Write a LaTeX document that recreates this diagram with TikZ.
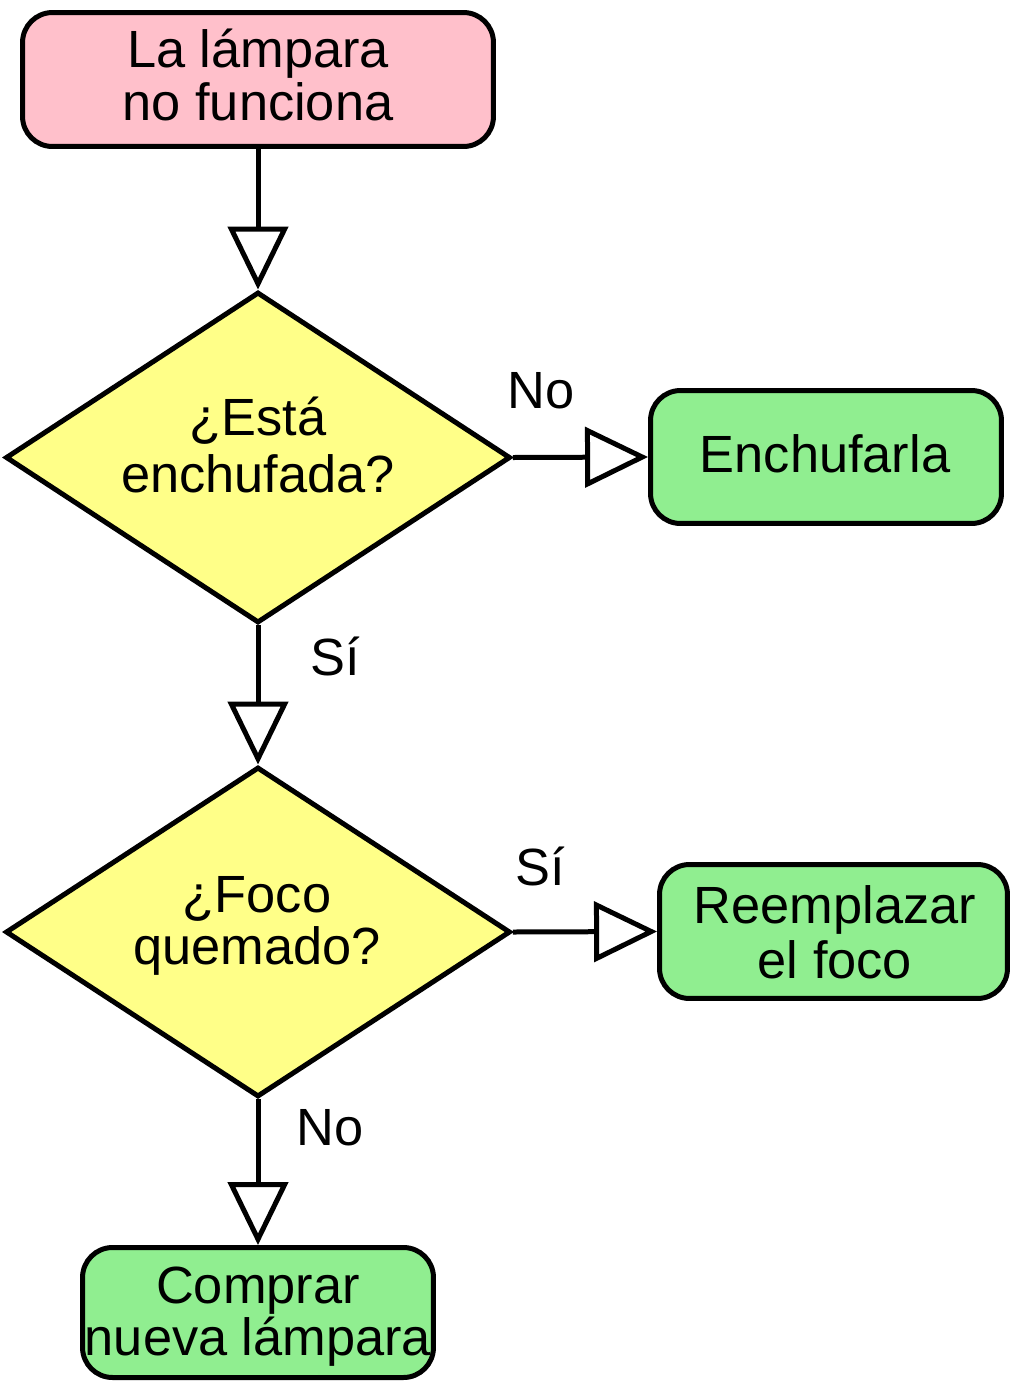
\documentclass[tikz,border=0pt]{standalone}
\usepackage{fontspec}
\setmainfont{Liberation Sans}
\usetikzlibrary{shapes.geometric,arrows.meta}
\definecolor{startpink}{HTML}{FFC0CB}
\definecolor{decyellow}{HTML}{FFFF88}
\definecolor{endgreen}{HTML}{90EE90}
\tikzset{
  lw/.style={line width=0.1cm},
  boxnode/.style={lw, draw=black, rectangle, rounded corners=0.6cm, inner sep=0pt},
  decnode/.style={lw, draw=black, diamond, fill=decyellow, inner sep=0pt, minimum width=10.1cm},
  txt/.style={inner sep=0pt, anchor=base, align=center, font=\fontsize{29.8pt}{29.6pt}\selectfont},
  arr/.style={lw, line join=miter, -{Triangle[length=1.26cm, width=1.2cm, fill=white]}},
}
\begin{document}
\begin{tikzpicture}[x=0.02cm, y=-0.02cm]
\useasboundingbox (0,0) rectangle (1012,1383);
% shapes
\node[boxnode, fill=startpink, minimum width=9.42cm, minimum height=2.68cm] (start) at (258,79.5) {};
\node[decnode, minimum height=6.62cm] (d1) at (258,457.5) {};
\node[boxnode, fill=endgreen, minimum width=7.02cm, minimum height=2.66cm] (e1) at (826,457) {};
\node[decnode, minimum height=6.6cm] (d2) at (258,932) {};
\node[boxnode, fill=endgreen, minimum width=6.96cm, minimum height=2.68cm] (e2) at (833.5,931.5) {};
\node[boxnode, fill=endgreen, minimum width=7.02cm, minimum height=2.6cm] (e3) at (258,1312.5) {};
% texts
\node[txt] (tstart) at (258,120) {La lámpara\\no funciona};
\node[txt, font=\fontsize{29.8pt}{32.4pt}\selectfont] (td1) at (258,492) {¿Está\\enchufada?};
\node[txt] (te1) at (825,472) {Enchufarla};
\node[txt] (td2) at (257,964) {¿Foco\\quemado?};
\node[txt, font=\fontsize{29.8pt}{31.3pt}\selectfont] (te2) at (835,978) {Reemplazar\\el foco};
\node[txt] (te3) at (258,1355) {Comprar\\nueva lámpara};
% labels
\node[txt] (lno1) at (541,408) {No};
\node[txt] (lsi1) at (335,675) {Sí};
\node[txt] (lsi2) at (540,885) {Sí};
\node[txt] (lno2) at (330,1145) {No};
% connectors
\draw[arr] (start.south) -- (d1.north);
\draw[arr] (d1.east) -- (e1.west);
\draw[arr] (d1.south) -- (d2.north);
\draw[arr] (d2.east) -- (e2.west);
\draw[arr] (d2.south) -- (e3.north);
\end{tikzpicture}
\end{document}
